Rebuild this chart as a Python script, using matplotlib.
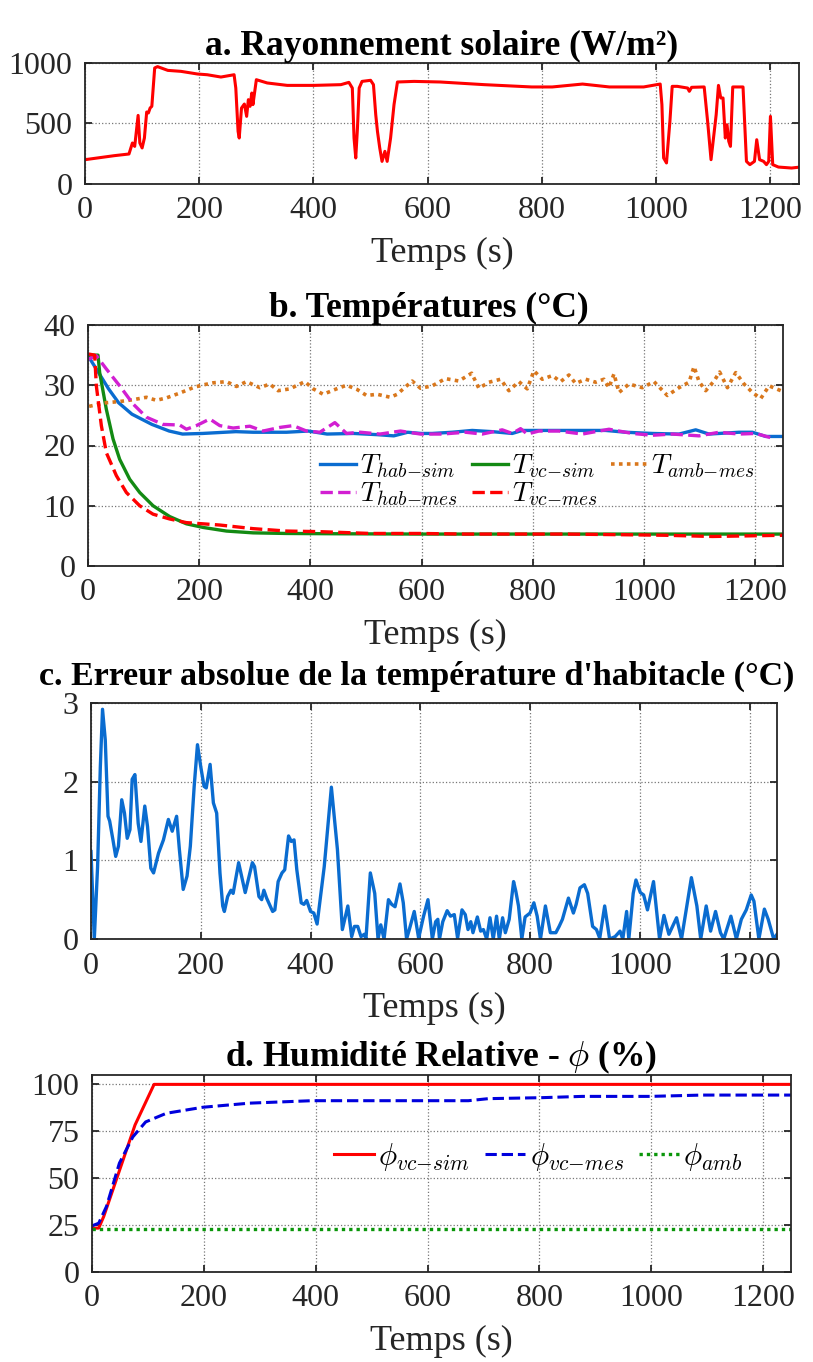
import numpy as np
import matplotlib
matplotlib.use("Agg")
import matplotlib.pyplot as plt

plt.rcParams['font.family'] = ['Liberation Serif', 'DejaVu Serif']
plt.rcParams['mathtext.fontset'] = 'cm'

# --- a. Rayonnement solaire ---
t_ray = [0, 51, 77, 83, 87, 93, 96, 100, 104, 108, 111, 114, 117, 122, 127, 145, 168, 197,
         214, 238, 261, 264, 268, 270, 274, 279, 283, 286, 289, 292, 294, 300, 319, 354, 401,
         448, 462, 468, 471, 474, 477, 480, 485, 500, 505, 509, 512, 516, 520, 525, 529, 535,
         541, 547, 576, 622, 699, 782, 818, 871, 918, 978, 1007, 1010, 1013, 1018, 1024, 1028,
         1037, 1055, 1058, 1062, 1084, 1090, 1096, 1101, 1105, 1109, 1113, 1117, 1121, 1124,
         1127, 1130, 1134, 1152, 1158, 1164, 1172, 1176, 1181, 1188, 1193, 1197, 1200, 1204,
         1214, 1237, 1252]
ray = [201, 234, 248, 339, 311, 567, 339, 298, 380, 595, 587, 628, 642, 959, 970, 939, 931, 909,
       903, 884, 903, 793, 435, 380, 628, 661, 559, 697, 642, 752, 656, 862, 835, 815, 815,
       821, 840, 793, 380, 215, 463, 793, 848, 857, 821, 573, 435, 298, 187, 270, 187, 380,
       656, 843, 848, 843, 821, 802, 802, 826, 802, 802, 826, 656, 215, 174, 518, 807,
       807, 793, 766, 799, 802, 518, 201, 408, 573, 815, 711, 711, 380, 490,
       353, 311, 802, 802, 187, 160, 187, 366, 201, 187, 160, 187, 559, 160,
       140, 132, 140]

# --- b. Temperatures ---
t_hab_sim = [0, 19, 37, 55, 79, 115, 146, 170, 206, 266, 297, 357, 396, 430, 478, 520, 550, 575,
             599, 619, 655, 691, 727, 763, 781, 829, 889, 931, 967, 1015, 1063, 1093, 1117,
             1171, 1195, 1219, 1250]
T_hab_sim = [34.9, 32.1, 29.4, 27.1, 25.2, 23.5, 22.4, 21.9, 22.0, 22.3, 22.2, 22.2, 22.4, 21.9,
             22.0, 21.8, 21.6, 22.2, 22.0, 22.0, 22.2, 22.5, 22.3, 22.0, 22.5, 22.5, 22.5, 22.5,
             22.2, 22.0, 21.9, 22.6, 21.9, 22.2, 22.2, 21.5, 21.5]

t_hab_mes = [0, 15, 33, 57, 81, 105, 135, 165, 177, 195, 219, 237, 261, 291, 315, 345, 369, 393,
             417, 444, 465, 490, 525, 562, 598, 637, 679, 709, 745, 763, 778, 790, 811, 847,
             889, 937, 979, 1015, 1051, 1099, 1135, 1171, 1201, 1228]
T_hab_mes = [34.3, 34.9, 32.7, 29.9, 26.9, 24.7, 23.5, 23.4, 22.7, 23.3, 24.4, 23.3, 22.9, 23.2,
             22.4, 23.0, 23.3, 22.4, 22.2, 23.8, 22.0, 22.2, 21.9, 22.4, 21.9, 21.9, 22.2, 21.9,
             22.6, 22.0, 22.8, 21.9, 22.4, 22.4, 21.9, 22.7, 22.0, 21.7, 21.9, 21.6, 22.2, 21.9,
             22.0, 21.3]

t_vc_sim = [0, 18, 21, 33, 45, 57, 75, 93, 117, 147, 177, 207, 249, 297, 357, 450, 600, 800,
            1000, 1250]
T_vc_sim = [35.0, 35.0, 32.1, 26.0, 21.1, 17.7, 14.4, 12.2, 10.0, 8.2, 7.0, 6.4, 5.8, 5.5, 5.4,
            5.35, 5.3, 5.3, 5.3, 5.3]

t_vc_mes = [0, 12, 15, 24, 33, 51, 69, 93, 117, 147, 177, 237, 297, 357, 417, 508, 598, 679,
            859, 955, 1039, 1123, 1250]
T_vc_mes = [35.2, 35.0, 29.9, 23.3, 18.8, 15.0, 12.2, 10.0, 8.6, 7.8, 7.2, 6.8, 6.2, 5.8, 5.7,
            5.4, 5.4, 5.3, 5.3, 5.2, 5.1, 4.9, 5.1]

t_amb = [2, 33, 57, 81, 105, 123, 141, 165, 189, 204, 225, 249, 267, 285, 309, 327, 342, 363,
         390, 405, 423, 447, 465, 484, 501, 520, 544, 556, 583, 598, 619, 643, 667, 690, 703,
         721, 742, 757, 775, 790, 802, 817, 835, 850, 865, 877, 895, 913, 928, 937, 946, 955,
         973, 997, 1018, 1042, 1063, 1081, 1090, 1099, 1111, 1126, 1136, 1150, 1165, 1180,
         1195, 1210, 1225, 1246]
T_amb = [26.5, 27.1, 27.3, 27.6, 28.0, 27.5, 27.9, 28.7, 29.6, 30.0, 30.4, 30.6, 29.8, 30.6,
         29.6, 30.2, 29.1, 29.4, 30.6, 29.4, 28.5, 29.4, 30.0, 29.3, 28.3, 28.5, 28.0, 28.5,
         30.7, 29.5, 29.9, 31.1, 30.7, 32.0, 29.5, 30.5, 31.0, 29.1, 30.6, 29.4, 32.4, 31.0,
         31.6, 30.6, 31.7, 30.3, 31.0, 30.5, 31.0, 29.6, 31.9, 28.8, 30.2, 29.6, 30.6, 28.3,
         29.6, 30.5, 33.1, 30.6, 29.1, 30.7, 32.2, 29.6, 32.1, 30.2, 28.8, 27.8, 29.9, 29.1]

# --- c. Erreur absolue ---
t_err = [0, 6, 12, 17, 21, 26, 31, 34, 40, 45, 50, 56, 61, 66, 71, 75, 80, 86, 91, 98, 103, 109,
         114, 123, 132, 141, 148, 156, 161, 168, 175, 181, 188, 194, 200, 206, 210, 217, 223,
         229, 235, 240, 243, 249, 255, 259, 269, 281, 294, 298, 306, 311, 315, 320, 331, 335,
         341, 348, 353, 360, 365, 370, 375, 383, 388, 393, 400, 406, 412, 425, 438, 449, 458,
         468, 475, 480, 486, 492, 498, 501, 509, 517, 523, 528, 534, 542, 548, 554, 563, 569,
         575, 580, 589, 597, 606, 614, 622, 628, 632, 635, 641, 649, 655, 662, 668, 676, 682,
         687, 692, 696, 704, 710, 715, 721, 727, 733, 739, 744, 750, 755, 762, 770, 774, 779,
         785, 791, 800, 807, 813, 819, 828, 837, 847, 853, 859, 870, 879, 884, 891, 899, 905,
         914, 921, 927, 936, 945, 955, 964, 969, 976, 980, 988, 993, 1001, 1007, 1014, 1025,
         1031, 1036, 1044, 1053, 1067, 1076, 1094, 1104, 1111, 1121, 1129, 1138, 1147, 1153,
         1166, 1176, 1185, 1194, 1203, 1208, 1217, 1227, 1234, 1244, 1250]
err = [1.11, 0.0, 0.92, 2.19, 2.92, 2.53, 1.56, 1.50, 1.26, 1.05, 1.18, 1.77, 1.60, 1.28, 1.39,
       2.03, 2.09, 1.47, 1.24, 1.69, 1.43, 0.90, 0.84, 1.09, 1.26, 1.52, 1.37, 1.56, 1.14, 0.63,
       0.80, 1.18, 1.94, 2.47, 2.19, 1.94, 1.92, 2.22, 1.73, 1.60, 0.84, 0.42, 0.35, 0.54, 0.62,
       0.58, 0.97, 0.59, 0.97, 0.92, 0.54, 0.50, 0.62, 0.52, 0.35, 0.37, 0.73, 0.84, 0.88, 1.31,
       1.24, 1.26, 0.88, 0.46, 0.44, 0.49, 0.35, 0.33, 0.19, 0.92, 1.93, 1.14, 0.12, 0.42, 0.03,
       0.16, 0.16, 0.03, 0.06, 0.0, 0.84, 0.58, 0.0, 0.18, 0.0, 0.50, 0.44, 0.41, 0.70, 0.46,
       0.0, 0.12, 0.35, 0.01, 0.29, 0.50, 0.0, 0.22, 0.25, 0.0, 0.22, 0.36, 0.29, 0.31, 0.01,
       0.37, 0.31, 0.12, 0.22, 0.08, 0.28, 0.10, 0.12, 0.0, 0.27, 0.0, 0.29, 0.0, 0.27, 0.08,
       0.25, 0.73, 0.61, 0.42, 0.0, 0.28, 0.33, 0.46, 0.29, 0.0, 0.42, 0.08, 0.08, 0.16, 0.25,
       0.52, 0.33, 0.44, 0.65, 0.69, 0.58, 0.16, 0.12, 0.01, 0.42, 0.0, 0.03, 0.10, 0.0, 0.35,
       0.0, 0.58, 0.75, 0.59, 0.56, 0.37, 0.73, 0.33, 0.0, 0.30, 0.06, 0.27, 0.0, 0.78, 0.42,
       0.0, 0.42, 0.10, 0.35, 0.08, 0.0, 0.29, 0.0, 0.25, 0.37, 0.56, 0.48, 0.0, 0.38, 0.25,
       0.0, 0.06]

# --- d. Humidite relative ---
t_phi_sim = [0, 12, 21, 77, 111, 1250]
phi_sim = [23.4, 23.4, 29.6, 78.4, 100, 100]
t_phi_mes = [0, 12, 26, 49, 73, 96, 133, 198, 282, 393, 487, 673, 709, 802, 877, 998, 1091, 1250]
phi_mes = [24.6, 26.0, 35.0, 58.0, 72.0, 80.0, 84.6, 87.8, 90.0, 91.3, 91.3, 91.3, 92.4, 92.9,
           93.6, 93.6, 94.3, 94.3]
t_phi_amb = [0, 1250]
phi_amb = [22.9, 22.9]

W, H = 813, 1362
fig = plt.figure(figsize=(W / 100, H / 100), dpi=100)


def add_ax(left, right, top, bottom):
    return fig.add_axes([left / W, 1 - bottom / H, (right - left) / W, (bottom - top) / H])


def style(ax, ylim, yticks, title, title_x=0.5, title_size=25.5, title_pad=6):
    ax.set_xlim(0, 1250)
    ax.set_ylim(*ylim)
    ax.set_xticks([0, 200, 400, 600, 800, 1000, 1200])
    ax.set_yticks(yticks)
    ax.grid(True, ls=':', color='#777777', lw=0.9)
    ax.tick_params(direction='in', top=True, right=True, labelsize=23, length=5,
                   width=1.3, colors='#262626', pad=9)
    for s in ax.spines.values():
        s.set_linewidth(1.3)
        s.set_color('#262626')
    ax.set_xlabel('Temps (s)', fontsize=26, color='#262626', labelpad=8)
    ax.set_title(title, fontsize=title_size, fontweight='bold', pad=title_pad, x=title_x)


ax1 = add_ax(85, 799, 63, 184)
ax1.plot(t_ray, ray, color='red', lw=2.2)
style(ax1, (0, 1000), [0, 500, 1000], 'a. Rayonnement solaire (W/m²)')

ax2 = add_ax(88, 783, 325, 566)
h1, = ax2.plot(t_hab_sim, T_hab_sim, color='#0a6cd0', lw=2.4, label=r'$T_{hab{-}sim}$')
h2, = ax2.plot(t_vc_sim, T_vc_sim, color='#138a13', lw=2.4, label=r'$T_{vc{-}sim}$')
h3, = ax2.plot(t_amb, T_amb, color='#d9771c', lw=2.6, ls=(0, (1, 1.2)), label=r'$T_{amb{-}mes}$')
h4, = ax2.plot(t_hab_mes, T_hab_mes, color='#d21fd2', lw=2.4, ls='--', label=r'$T_{hab{-}mes}$')
h5, = ax2.plot(t_vc_mes, T_vc_mes, color='red', lw=2.4, ls='--', label=r'$T_{vc{-}mes}$')
style(ax2, (0, 40), [0, 10, 20, 30, 40], 'b. Températures (°C)', title_x=0.49)
ax2.legend(handles=[h1, h4, h2, h5, h3], ncol=3, loc='center left',
           bbox_to_anchor=(0.31, 0.355), frameon=False, fontsize=20,
           handlelength=1.3, handletextpad=0.15, columnspacing=0.5, labelspacing=0.0,
           borderpad=0.1)

ax3 = add_ax(91, 777, 703, 939)
ax3.plot(t_err, err, color='#0a6cd0', lw=2.4)
style(ax3, (0, 3), [0, 1, 2, 3], "c. Erreur absolue de la température d'habitacle (°C)",
      title_x=0.475, title_size=24.5, title_pad=13)

ax4 = add_ax(92, 791, 1075, 1272)
g1, = ax4.plot(t_phi_sim, phi_sim, color='red', lw=2.2, label=r'$\phi_{vc{-}sim}$')
g2, = ax4.plot(t_phi_mes, phi_mes, color='#0000dd', lw=2.2, ls='--', label=r'$\phi_{vc{-}mes}$')
g3, = ax4.plot(t_phi_amb, phi_amb, color='#0a960a', lw=2.4, ls=(0, (1, 1.2)), label=r'$\phi_{amb}$')
style(ax4, (0, 105), [0, 25, 50, 75, 100], r'd. Humidité Relative - $\phi$ (%)')
ax4.legend(handles=[g1, g2, g3], ncol=3, loc='center left', bbox_to_anchor=(0.32, 0.586),
           frameon=False, fontsize=22, handlelength=1.3, handletextpad=0.15,
           columnspacing=0.5, borderpad=0.1)

fig.savefig('out.png', dpi=100)
